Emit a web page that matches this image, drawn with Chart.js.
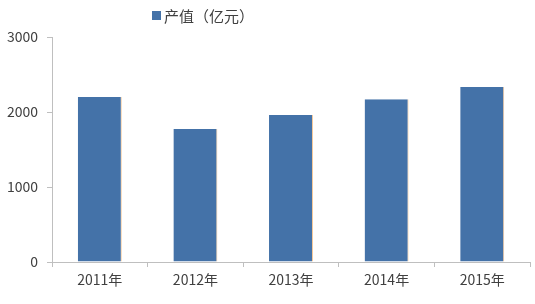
<!DOCTYPE html>
<html>
<head>
<meta charset="utf-8">
<script src="https://cdn.jsdelivr.net/npm/chart.js@4"></script>
<style>
  html, body { margin: 0; padding: 0; background: #fff; }
  #wrap { position: relative; width: 535px; height: 304px; }
  #legend {
    position: absolute; left: 152px; top: 5px;
    font: 15px "Noto Sans CJK SC", sans-serif; color: #404040;
    display: flex; align-items: center;
  }
  #legend span.box { width: 9px; height: 9px; background: #4472A8; margin-right: 3px; display: inline-block; }
</style>
</head>
<body>
<div id="wrap">
  <canvas id="chart" width="535" height="304"></canvas>
  <div id="legend"><span class="box"></span><span id="legendText"></span></div>
</div>
<script>
const years = ["2011年", "2012年", "2013年", "2014年", "2015年"]
const outputValue = [2200, 1775, 1960, 2170, 2335]
const seriesName = "产值（亿元）"
const yTicks = [0, 1000, 2000, 3000]

const axisCol = "#BFBFBF"
const textCol = "#404040"

document.getElementById('legendText').textContent = seriesName

var ctx = document.getElementById('chart').getContext('2d');
var outputChart = new Chart(ctx, {
    type: 'bar',
    data: {
        labels: years,
        datasets: [{
            label: seriesName,
            data: outputValue,
            backgroundColor: "#4472A8",
            borderColor: "#F5C99A",
            borderWidth: {top: 0, left: 0, bottom: 0, right: 1},
            categoryPercentage: 1,
            barPercentage: 0.46
        }]
    },
    options: {
        responsive: false,
        animation: false,
        layout: { padding: { top: 37, right: 5, left: 0, bottom: 0 } },
        plugins: {
            legend: { display: false },
            tooltip: { enabled: false }
        },
        scales: {
            x: {
                grid: { drawOnChartArea: false, color: axisCol, tickLength: 5, offset: true },
                border: { color: axisCol },
                ticks: { color: textCol, font: { family: "Noto Sans CJK SC", size: 14 }, padding: 4 },
                afterFit: (scale) => { scale.height = 42 }
            },
            y: {
                min: 0,
                max: 3000,
                afterBuildTicks: (scale) => { scale.ticks = yTicks.map(v => ({ value: v })) },
                grid: { drawOnChartArea: false, color: axisCol, tickLength: 5 },
                border: { color: axisCol },
                ticks: {
                    color: textCol,
                    font: { family: "Noto Sans CJK SC", size: 14 },
                    padding: 9,
                    callback: (v) => String(v)
                },
                afterFit: (scale) => { scale.width = 52 }
            }
        }
    }
});
</script>
</body>
</html>
